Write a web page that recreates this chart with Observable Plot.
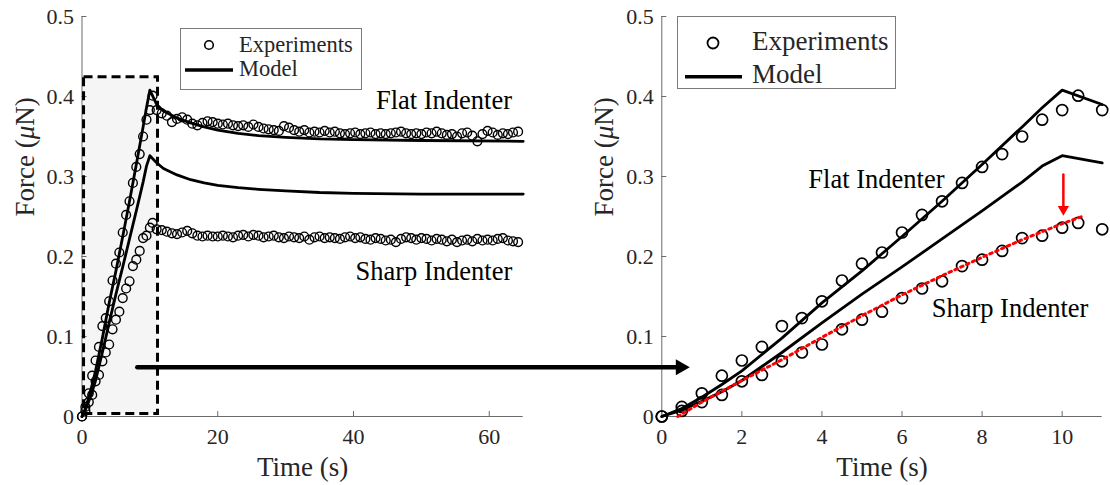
<!DOCTYPE html>
<html><head><meta charset="utf-8">
<script src="https://cdn.jsdelivr.net/npm/d3@7"></script>
<script src="https://cdn.jsdelivr.net/npm/@observablehq/plot@0.6"></script>
<style>
html,body{margin:0;padding:0;background:#fff;}
#wrap{position:relative;width:1110px;height:485px;overflow:hidden;font-family:"Liberation Serif",serif;}
#wrap svg{position:absolute;top:0;overflow:visible;background:transparent;}
</style></head><body><div id="wrap"></div>
<script>
// ---------- data ----------
const loadTime = [0,0.5,1,1.5,2,2.5,3,3.5,4,4.5,5,5.5,6,6.5,7,7.5,8,8.5,9,9.5,10,10.4,11];
const flatExp  = [0,0.012,0.029,0.051,0.070,0.087,0.113,0.123,0.144,0.170,0.191,0.205,0.230,0.252,0.269,0.292,0.312,0.328,0.350,0.371,0.383,0.401,0.383];
const sharpExp = [0,0.007,0.018,0.027,0.044,0.052,0.069,0.080,0.090,0.109,0.121,0.131,0.148,0.160,0.169,0.188,0.196,0.207,0.223,0.226,0.236,0.242,0.234];

const holdTime = [11.75,12.5,13.25,14,14.75,15.5,16.25,17,17.75,18.5,19.25,20,20.75,21.5,22.25,23,23.75,24.5,25.25,26,26.75,27.5,28.25,29,29.75,30.5,31.25,32,32.75,33.5,34.25,35,35.75,36.5,37.25,38,38.75,39.5,40.25,41,41.75,42.5,43.25,44,44.75,45.5,46.25,47,47.75,48.5,49.25,50,50.75,51.5,52.25,53,53.75,54.5,55.25,56,56.75,57.5,58.25,59,59.75,60.5,61.25,62,62.75,63.5,64.25];
const flatHold = [0.379,0.376,0.368,0.372,0.374,0.371,0.366,0.364,0.367,0.369,0.368,0.366,0.365,0.366,0.364,0.363,0.364,0.362,0.365,0.362,0.360,0.359,0.358,0.357,0.363,0.361,0.358,0.356,0.358,0.355,0.356,0.355,0.357,0.355,0.356,0.354,0.353,0.354,0.355,0.353,0.354,0.355,0.353,0.354,0.353,0.354,0.355,0.356,0.354,0.353,0.354,0.353,0.355,0.354,0.356,0.354,0.352,0.353,0.350,0.354,0.355,0.351,0.344,0.353,0.357,0.355,0.352,0.354,0.353,0.355,0.356];
const sharpHold = [0.233,0.231,0.229,0.228,0.230,0.232,0.229,0.226,0.225,0.226,0.225,0.225,0.226,0.225,0.224,0.226,0.227,0.225,0.227,0.226,0.224,0.225,0.226,0.224,0.223,0.225,0.224,0.223,0.225,0.221,0.224,0.225,0.223,0.224,0.223,0.222,0.224,0.225,0.223,0.224,0.222,0.221,0.223,0.222,0.220,0.221,0.218,0.222,0.224,0.223,0.221,0.223,0.222,0.220,0.222,0.221,0.219,0.221,0.218,0.220,0.221,0.219,0.222,0.220,0.221,0.220,0.222,0.223,0.220,0.219,0.218];

const rampTime = [0,0.5,1,1.5,2,3,4,5,6,7,8,9,9.5,10];
const flatModelRamp  = [0,0.010,0.024,0.040,0.057,0.098,0.142,0.182,0.225,0.269,0.315,0.362,0.386,0.408];
const sharpModelRamp = [0,0.008,0.019,0.031,0.045,0.080,0.117,0.153,0.187,0.222,0.257,0.293,0.313,0.326];
const holdModelTime  = [11,12,14,16,18,20,23,26,30,35,40,50,65];
const flatModelHold  = [0.390,0.382,0.373,0.367,0.362,0.358,0.354,0.351,0.349,0.347,0.346,0.345,0.344];
const sharpModelHold = [0.317,0.310,0.302,0.296,0.292,0.289,0.286,0.284,0.282,0.280,0.279,0.278,0.278];

const redFitTime  = [0.4,1,2,3,4,5,6,7,8,9,10,10.55];
const redFitForce = [0,0.018,0.045,0.071,0.099,0.126,0.152,0.176,0.199,0.221,0.241,0.251];

const leftXTicks = [0,20,40,60];
const rightXTicks = [0,2,4,6,8,10];
const yTicks = [0,0.1,0.2,0.3,0.4,0.5];

const zoomBox = [{x1:0.3, x2:11.2, y1:0.003, y2:0.424}];
const bigArrowTime = [-13.1, 0.4];
const bigArrowForce = 0.0616;
const bigArrowHead = [{t:0.467, f:0.0616}];
const redArrowForce = [0.3025, 0.262];
const redArrowTime = 10.03;
const redArrowHead = [{t:10.03, f:0.2591}];

const leftNotes  = [{t:43.3, f:0.385, label:"Flat Indenter"}, {t:40.3, f:0.171, label:"Sharp Indenter"}];
const rightNotes = [{t:3.66, f:0.286, label:"Flat Indenter"}, {t:6.74, f:0.124, label:"Sharp Indenter"}];

// ---------- build tables ----------
const zip = (ts, fs) => ts.map((t, i) => ({t, f: fs[i]}));
const flatExpAll  = zip(loadTime.concat(holdTime), flatExp.concat(flatHold));
const sharpExpAll = zip(loadTime.concat(holdTime), sharpExp.concat(sharpHold));
const flatModel  = zip(rampTime.concat(holdModelTime), flatModelRamp.concat(flatModelHold));
const sharpModel = zip(rampTime.concat(holdModelTime), sharpModelRamp.concat(sharpModelHold));
const redFit = zip(redFitTime, redFitForce);
const bigArrow = bigArrowTime.map(t => ({t, f: bigArrowForce}));
const redArrow = redArrowForce.map(f => ({t: redArrowTime, f}));

const FONT = "Liberation Serif";
const AX = "#6a6a6a";
const TXT = "#262626";
const H = 485, MT = 16, MB = 69;
const frameH = H - MT - MB;

function panel({width, ml, mr, xDomain, xTicks, flatE, sharpE, flatM, sharpM, notes, dotR, dotW, extra}) {
  const frameW = width - ml - mr;
  return Plot.plot({
    width, height: H, marginLeft: ml, marginRight: mr, marginTop: MT, marginBottom: MB,
    x: {domain: xDomain}, y: {domain: [0, 0.5]},
    style: {fontFamily: FONT, background: "transparent", overflow: "visible", color: TXT},
    marks: [
      ...(extra.before || []),
      Plot.ruleY([0], {stroke: AX, strokeWidth: 1}),
      Plot.ruleX([xDomain[0]], {stroke: AX, strokeWidth: 1}),
      Plot.tickX(xTicks, {x: d => d, insetTop: frameH - 5, stroke: AX}),
      Plot.tickY(yTicks, {y: d => d, insetRight: frameW - 5, stroke: AX}),
      Plot.axisX({ticks: xTicks, tickSize: 0, tickPadding: 12, fontSize: 22, label: null, tickFormat: d => String(d), color: TXT}),
      Plot.axisY({ticks: yTicks, tickSize: 0, tickPadding: 8, fontSize: 22, label: null, tickFormat: d => String(d), color: TXT}),
      Plot.text(["Time (s)"], {text: d => d, frameAnchor: "bottom", dy: 59, lineAnchor: "bottom", fontSize: 27, fill: TXT}),
      Plot.text(["Force (μN)"], {text: d => d, frameAnchor: "left", dx: -57, rotate: -90, fontSize: 27, fill: TXT}),
      Plot.line(flatM, {x: "t", y: "f", stroke: "black", strokeWidth: 2.8}),
      Plot.line(sharpM, {x: "t", y: "f", stroke: "black", strokeWidth: 2.8}),
      Plot.dot(flatE, {x: "t", y: "f", r: dotR, stroke: "black", strokeWidth: dotW, fill: "none"}),
      Plot.dot(sharpE, {x: "t", y: "f", r: dotR, stroke: "black", strokeWidth: dotW, fill: "none"}),
      Plot.text(notes, {x: "t", y: "f", text: "label", textAnchor: "start", lineAnchor: "bottom", fontSize: 26.5, fill: "black"}),
      ...(extra.after || [])
    ]
  });
}

const left = panel({
  width: 560, ml: 81.5, mr: 37.3, xDomain: [0, 65], xTicks: leftXTicks,
  flatE: flatExpAll, sharpE: sharpExpAll, flatM: flatModel, sharpM: sharpModel,
  notes: leftNotes, dotR: 4.4, dotW: 1.4,
  extra: {
    before: [Plot.rect(zoomBox, {x1: "x1", x2: "x2", y1: "y1", y2: "y2", fill: "#f5f5f5"})],
    after: [Plot.rect(zoomBox, {x1: "x1", x2: "x2", y1: "y1", y2: "y2", fill: "none", stroke: "black", strokeWidth: 3, strokeDasharray: "9,5"})]
  }
});

const inRight = d => d.t <= 11.001;
const right = panel({
  width: 550, ml: 101.3, mr: 8.3, xDomain: [0, 11], xTicks: rightXTicks,
  flatE: flatExpAll.filter(inRight), sharpE: sharpExpAll.filter(inRight),
  flatM: flatModel.filter(inRight), sharpM: sharpModel.filter(inRight),
  notes: rightNotes, dotR: 5.5, dotW: 1.7,
  extra: {
    after: [
      Plot.line(redFit, {x: "t", y: "f", stroke: "#ff0000", strokeWidth: 3, strokeDasharray: "2.6,3.8"}),
      Plot.line(redArrow, {x: "t", y: "f", stroke: "#ff0000", strokeWidth: 2.5}),
      Plot.dot(redArrowHead, {x: "t", y: "f", symbol: "triangle", rotate: 180, r: 4.2, fill: "#ff0000", stroke: "none"}),
      Plot.line(bigArrow, {x: "t", y: "f", stroke: "black", strokeWidth: 4.5}),
      Plot.dot(bigArrowHead, {x: "t", y: "f", symbol: "triangle", rotate: 90, r: 6, fill: "black", stroke: "none"})
    ]
  }
});

const wrap = document.getElementById("wrap");
left.style.left = "0px";
right.style.left = "560px";
wrap.appendChild(left);
wrap.appendChild(right);

// italic mu in the y labels
for (const svg of [left, right]) {
  svg.querySelectorAll("text").forEach(t => {
    if (t.textContent === "Force (μN)") {
      t.innerHTML = 'Force (<tspan font-style="italic">μ</tspan>N)';
    }
  });
}

// ---------- legends ----------
const legends = [
  {x: 180.5, y: 28.5, w: 181, h: 61, cx: 209, cy: 45, r: 4.3, sw: 1.6, tx: 239, ty1: 52, ty2: 76, lx1: 185, lx2: 233, ly: 70, fs: 22.5},
  {x: 677.5, y: 16.5, w: 218, h: 72, cx: 713, cy: 43, r: 5.5, sw: 1.8, tx: 752, ty1: 49.5, ty2: 83, lx1: 685, lx2: 742, ly: 76.7, fs: 27}
];
const legendItems = ["Experiments", "Model"];
const lg = d3.select(wrap).append("svg").attr("width", 1110).attr("height", 485)
  .style("left", "0px").style("pointer-events", "none").style("font-family", FONT);
for (const L of legends) {
  lg.append("rect").attr("x", L.x).attr("y", L.y).attr("width", L.w).attr("height", L.h)
    .attr("fill", "white").attr("stroke", "#7a7a7a").attr("stroke-width", 1);
  lg.append("circle").attr("cx", L.cx).attr("cy", L.cy).attr("r", L.r)
    .attr("fill", "none").attr("stroke", "black").attr("stroke-width", L.sw);
  lg.append("line").attr("x1", L.lx1).attr("x2", L.lx2).attr("y1", L.ly).attr("y2", L.ly)
    .attr("stroke", "black").attr("stroke-width", 3.5);
  lg.append("text").attr("x", L.tx).attr("y", L.ty1).attr("font-size", L.fs).attr("fill", TXT).text(legendItems[0]);
  lg.append("text").attr("x", L.tx).attr("y", L.ty2).attr("font-size", L.fs).attr("fill", TXT).text(legendItems[1]);
}
</script></body></html>
